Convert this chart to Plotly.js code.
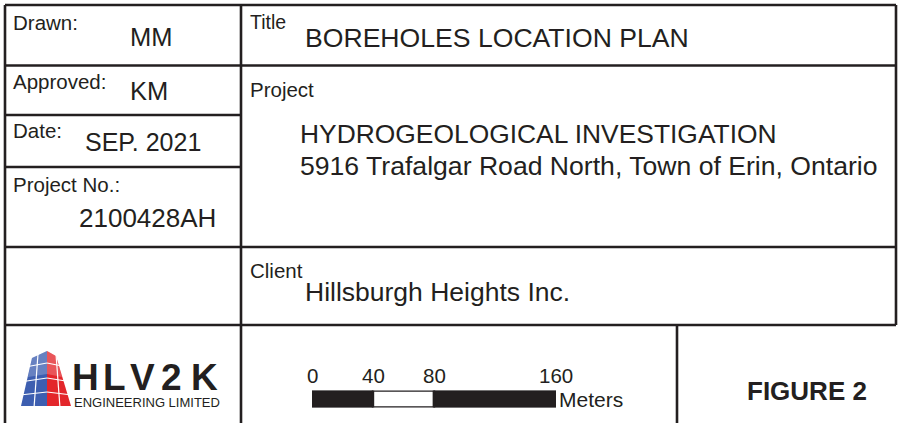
<!DOCTYPE html>
<html>
<head>
<meta charset="utf-8">
<script src="https://cdn.plot.ly/plotly-3.0.1.min.js"></script>
<style>html,body{margin:0;padding:0;background:#fff;}#chart{width:901px;height:423px;}</style>
</head>
<body>
<div id="chart"></div>
<script>
// ---- data ----
var scaleTicks = [0, 40, 80, 160];          // scale bar tick labels (meters)
var scaleBase = [0, 40, 80];                // scale bar segment starts
var scaleLen = [40, 40, 80];                // scale bar segment lengths
var scaleFill = ['#231f20', '#ffffff', '#231f20'];
var scaleUnit = 'Meters';

var fieldLabels = ['Drawn:', 'Approved:', 'Date:', 'Project No.:'];
var fieldValues = ['MM', 'KM', 'SEP. 2021', '2100428AH'];
var titleText = 'BOREHOLES LOCATION PLAN';
var projectLines = ['HYDROGEOLOGICAL INVESTIGATION', '5916 Trafalgar Road North, Town of Erin, Ontario'];
var clientText = 'Hillsburgh Heights Inc.';
var figureText = 'FIGURE 2';
var logoLetters = ['H', 'L', 'V', '2', 'K'];
var logoSub = 'ENGINEERING LIMITED';

// ---- drawing ----
var INK = '#231f20';
var FONT = 'Liberation Sans, Arial, Helvetica, sans-serif';

function ln(x0, y0, x1, y1, w, c) {
  return {type: 'line', xref: 'x', yref: 'y', x0: x0, y0: y0, x1: x1, y1: y1,
          line: {color: c || INK, width: w || 2.6}, layer: 'above'};
}
function txt(t, x, y, size, anchor, extra) {
  var a = {text: t, x: x, y: y, xref: 'x', yref: 'y', showarrow: false,
           xanchor: anchor || 'left', yanchor: 'middle', borderpad: 0, borderwidth: 0,
           font: {family: FONT, size: size, color: INK}};
  if (extra) for (var k in extra) a[k] = extra[k];
  return a;
}

var shapes = [
  // grid lines of the title block
  ln(5, 5, 896, 5), ln(5, 5, 5, 423), ln(896, 5, 896, 325),
  ln(241, 5, 241, 423),
  ln(5, 65.5, 896, 65.5),
  ln(5, 115, 241, 115),
  ln(5, 167, 241, 167),
  ln(5, 247, 896, 247),
  ln(5, 325, 896, 325),
  ln(677, 325, 677, 423),
  // logo building
  {type: 'path', xref: 'x', yref: 'y', path: 'M21,406 L32,358 L47,351 L47,406 Z',
   fillcolor: '#3d5eb0', line: {width: 0}},
  {type: 'path', xref: 'x', yref: 'y', path: 'M47,351 L56,356 L71,406 L47,406 Z',
   fillcolor: '#e3262b', line: {width: 0}},
  {type: 'path', xref: 'x', yref: 'y', path: 'M32,358 L47,351 L47,374 L28,377 Z',
   fillcolor: 'rgba(255,255,255,0.22)', line: {width: 0}},
  {type: 'path', xref: 'x', yref: 'y', path: 'M47,351 L56,356 L62,377 L47,374 Z',
   fillcolor: 'rgba(255,255,255,0.22)', line: {width: 0}},
  // white window grid
  ln(20, 368, 47, 363, 1.2, '#fff'), ln(47, 363, 72, 368, 1.2, '#fff'),
  ln(20, 382, 47, 378, 1.2, '#fff'), ln(47, 378, 72, 382, 1.2, '#fff'),
  ln(20, 395, 47, 392, 1.2, '#fff'), ln(47, 392, 72, 395, 1.2, '#fff'),
  ln(38, 354, 34, 408, 1.2, '#fff'),
  ln(56, 354, 60, 408, 1.2, '#fff')
];

var ann = [];
var labelY = [22, 81, 130, 184];
var valX = [151, 149, 143, 147.5];
var valY = [37, 91, 142, 218];
var valSize = [25.5, 25.5, 25, 26];
for (var i = 0; i < fieldLabels.length; i++) {
  ann.push(txt(fieldLabels[i], 12.5, labelY[i], 20.5));
  ann.push(txt(fieldValues[i], valX[i], valY[i], valSize[i], 'center'));
}
ann.push(txt('Title', 249.5, 22, 19.5));
ann.push(txt(titleText, 305, 38, 26.6));
ann.push(txt('Project', 249.5, 89, 20.5));
ann.push(txt(projectLines[0], 300, 134, 26.4));
ann.push(txt(projectLines[1], 300, 166, 26.6));
ann.push(txt('Client', 249.5, 270, 20.5));
ann.push(txt(clientText, 305, 292, 26.5));
ann.push(txt(figureText, 807, 391, 26, 'center', {font: {family: FONT, size: 26, color: INK, weight: 'bold'}}));
ann.push(txt(scaleUnit, 559, 399.5, 21));
for (var j = 0; j < scaleTicks.length; j++) {
  ann.push({text: String(scaleTicks[j]), x: scaleTicks[j], xref: 'x2', y: 375, yref: 'y',
            showarrow: false, xanchor: 'center', yanchor: 'middle', borderpad: 0, borderwidth: 0,
            font: {family: FONT, size: 20.5, color: INK}});
}
// logo text
var logoX = [85.5, 114.5, 142, 171, 204];
for (var k = 0; k < logoLetters.length; k++) {
  ann.push(txt(logoLetters[k], logoX[k], 377, 37, 'center', {font: {family: FONT, size: 37, color: INK, weight: 'bold'}}));
}
ann.push(txt(logoSub, 146.5, 402, 13, 'center', {font: {family: FONT, size: 13, color: INK}}));

var traces = [
  {type: 'scatter', x: [0, 901], y: [0, 423], mode: 'markers', marker: {opacity: 0}, hoverinfo: 'skip', xaxis: 'x', yaxis: 'y'},
  {type: 'bar', orientation: 'h', y: [0, 0, 0], base: scaleBase, x: scaleLen, width: 1,
   marker: {color: scaleFill, line: {color: INK, width: 2.4}}, xaxis: 'x2', yaxis: 'y2', hoverinfo: 'skip'}
];

var layout = {
  width: 901, height: 423,
  margin: {l: 0, r: 0, t: 0, b: 0, pad: 0},
  paper_bgcolor: '#ffffff', plot_bgcolor: 'rgba(0,0,0,0)',
  showlegend: false,
  barmode: 'overlay',
  xaxis: {range: [0, 901], domain: [0, 1], visible: false, fixedrange: true},
  yaxis: {range: [423, 0], domain: [0, 1], visible: false, fixedrange: true},
  xaxis2: {range: [0, 160], domain: [312 / 901, 556 / 901], anchor: 'y2', visible: false},
  yaxis2: {range: [-0.5, 0.5], domain: [(423 - 407.5) / 423, (423 - 390.5) / 423], anchor: 'x2', visible: false},
  shapes: shapes,
  annotations: ann
};

Plotly.newPlot('chart', traces, layout, {staticPlot: true, displayModeBar: false});
</script>
</body>
</html>
